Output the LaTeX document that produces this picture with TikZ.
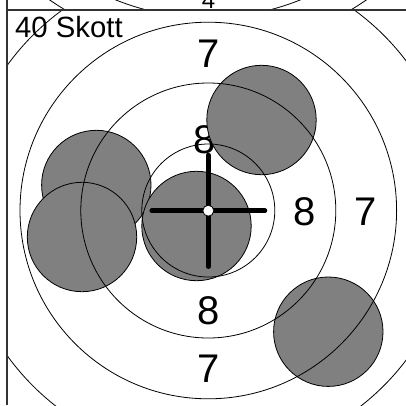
\documentclass[tikz,border=0pt]{standalone}
\usepackage{fontspec}
\setmainfont{Liberation Sans}
\begin{document}
\begin{tikzpicture}[x=1pt,y=-1pt,
  ring/.style={draw=black,line width=0.8pt},
  hole/.style={draw=black,line width=0.8pt,fill=gray},
  score/.style={inner sep=0pt,anchor=base,font=\fontsize{40}{40}\selectfont},
  frameline/.style={draw=black!80,line width=1.4pt},
  cross/.style={draw=black,line width=4.5pt,line cap=round}]
\useasboundingbox (0,0) rectangle (406,405);
\fill[white] (0,0) rectangle (406,405);
% previous panel (strip at top)
\begin{scope}
  \clip (7,0) rectangle (406,9.5);
  \coordinate (pc) at (208,-231);
  \draw[ring] (pc) circle[radius=248.6];
  \draw[ring] (pc) circle[radius=280];
  \node[inner sep=0pt,anchor=base,font=\fontsize{24}{24}\selectfont] (p4) at (208.5,8.5) {4};
\end{scope}
% current panel
\begin{scope}
  \clip (7,10) rectangle (406,405);
  \coordinate (c) at (208.3,210.5);
  \node[score] (t7) at (208.3,67) {7};
  \node[score] (t8) at (205,153.5) {8};
  \node[score] (r8) at (305,225) {8};
  \node[score] (r7) at (366,225) {7};
  \node[score] (b8) at (208.3,324) {8};
  \node[score] (b7) at (208.3,382) {7};
  \node[inner sep=0pt,anchor=base west,font=\fontsize{29.3}{29.3}\selectfont] (title) at (15,37) {40 Skott};
  \draw[hole] (261.5,120) circle[radius=54.7];
  \draw[hole] (96.3,185) circle[radius=54.7];
  \draw[hole] (82,237) circle[radius=54.7];
  \draw[hole] (328.3,331.7) circle[radius=54.7];
  \draw[hole] (196.5,226) circle[radius=54.7];
  \draw[ring] (c) circle[radius=66.5];
  \draw[ring] (c) circle[radius=127.5];
  \draw[ring] (c) circle[radius=188.3];
  \draw[ring] (c) circle[radius=248];
  \coordinate (cl) at (151.7,210.7);
  \coordinate (cr) at (265,210.7);
  \coordinate (ct) at (208.3,155);
  \coordinate (cb) at (208.3,266.7);
  \draw[cross] (cl) -- (cr);
  \draw[cross] (ct) -- (cb);
  \draw[draw=black,fill=white,line width=0.8pt] (208.3,210.7) circle[radius=5.5];
\end{scope}
\coordinate (fl0) at (7,0);
\coordinate (fl1) at (7,405);
\coordinate (fh0) at (7,10);
\coordinate (fh1) at (406,10);
\draw[frameline] (fl0) -- (fl1);
\draw[frameline] (fh0) -- (fh1);
\end{tikzpicture}
\end{document}
